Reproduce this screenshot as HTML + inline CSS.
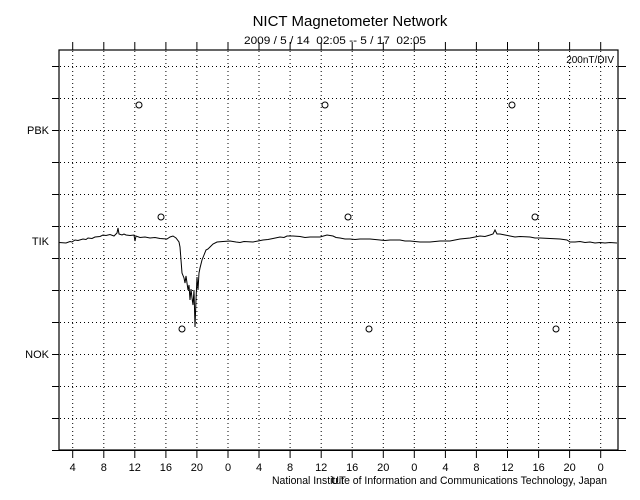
<!DOCTYPE html>
<html><head><style>
html,body{margin:0;padding:0;background:#fff;}
svg{display:block;font-family:"Liberation Sans",sans-serif;}
text{white-space:pre;}
</style></head><body>
<svg width="640" height="500" viewBox="0 0 640 500" xmlns="http://www.w3.org/2000/svg">
<rect width="640" height="500" fill="#fff"/>
<text x="350" y="26" font-size="15" text-anchor="middle">NICT Magnetometer Network</text>
<text x="244" y="44" font-size="11" textLength="182" lengthAdjust="spacingAndGlyphs">2009 / 5 / 14  02:05 -- 5 / 17  02:05</text>
<text x="614" y="63" font-size="10" text-anchor="end">200nT/DIV</text>
<g stroke="#000" stroke-width="1" stroke-dasharray="1,3" fill="none">
<path d="M60 66.5H618M60 98.5H618M60 130.5H618M60 162.5H618M60 194.5H618M60 226.5H618M60 258.5H618M60 290.5H618M60 322.5H618M60 354.5H618M60 386.5H618M60 418.5H618"/>
<path d="M72.7 51V450M103.8 51V450M134.8 51V450M165.9 51V450M196.9 51V450M228 51V450M259 51V450M290.1 51V450M321.2 51V450M352.2 51V450M383.3 51V450M414.3 51V450M445.4 51V450M476.4 51V450M507.5 51V450M538.6 51V450M569.6 51V450M600.7 51V450"/>
</g>
<rect x="59" y="50" width="559" height="400" fill="none" stroke="#000" stroke-width="1.2"/>
<g stroke="#000" stroke-width="1">
<path d="M52 66.5H59M52 98.5H59M52 130.5H59M52 162.5H59M52 194.5H59M52 226.5H59M52 258.5H59M52 290.5H59M52 322.5H59M52 354.5H59M52 386.5H59M52 418.5H59"/>
<path d="M618 66.5H626M618 98.5H626M618 130.5H626M618 162.5H626M618 194.5H626M618 226.5H626M618 258.5H626M618 290.5H626M618 322.5H626M618 354.5H626M618 386.5H626M618 418.5H626"/>
<path d="M52 450.5H626"/>
<path d="M72.7 42V50M103.8 42V50M134.8 42V50M165.9 42V50M196.9 42V50M228 42V50M259 42V50M290.1 42V50M321.2 42V50M352.2 42V50M383.3 42V50M414.3 42V50M445.4 42V50M476.4 42V50M507.5 42V50M538.6 42V50M569.6 42V50M600.7 42V50"/>
<path d="M72.7 450V458M103.8 450V458M134.8 450V458M165.9 450V458M196.9 450V458M228 450V458M259 450V458M290.1 450V458M321.2 450V458M352.2 450V458M383.3 450V458M414.3 450V458M445.4 450V458M476.4 450V458M507.5 450V458M538.6 450V458M569.6 450V458M600.7 450V458"/>
</g>
<g font-size="11" text-anchor="end">
<text x="49" y="134">PBK</text>
<text x="49" y="245">TIK</text>
<text x="49" y="358">NOK</text>
</g>
<g font-size="11" text-anchor="middle">
<text x="72.7" y="471">4</text><text x="103.8" y="471">8</text><text x="134.8" y="471">12</text><text x="165.9" y="471">16</text><text x="196.9" y="471">20</text><text x="228" y="471">0</text><text x="259" y="471">4</text><text x="290.1" y="471">8</text><text x="321.2" y="471">12</text><text x="352.2" y="471">16</text><text x="383.3" y="471">20</text><text x="414.3" y="471">0</text><text x="445.4" y="471">4</text><text x="476.4" y="471">8</text><text x="507.5" y="471">12</text><text x="538.6" y="471">16</text><text x="569.6" y="471">20</text><text x="600.7" y="471">0</text>
</g>
<text x="272" y="484" font-size="11" textLength="335" lengthAdjust="spacingAndGlyphs">National Institute of Information and Communications Technology, Japan</text>
<text x="331" y="484" font-size="11">UT</text>
<g fill="none" stroke="#000" stroke-width="1">
<circle cx="139" cy="105" r="3"/><circle cx="325" cy="105" r="3"/><circle cx="512" cy="105" r="3"/>
<circle cx="161" cy="217" r="3"/><circle cx="348" cy="217" r="3"/><circle cx="535" cy="217" r="3"/>
<circle cx="182" cy="329" r="3"/><circle cx="369" cy="329" r="3"/><circle cx="556" cy="329" r="3"/>
<path d="M59 242.5L66 243L70 241.5L72 242L75 240L78 240.5L83 239L86 239.5L88 238L92 238.5L95 237L100 236.5L103 235L106 235.5L110 234.5L114 236L117 233L118 228L119 234L122 235L124 234L126 235L130 235.5L134 235L135 241L136 236L140 237.5L145 237L150 238L155 237.5L160 238.5L167 239L170 237L173 236L176 238L179 242L180 247L181 260L182 273L184 278L185 283L186 276L188 290L189 285L190 300L191 289L192 298L193 305L194 290L195 327L196 300L197 277L198 290L199 273L200 268L202 260L204 255L206 250L208 249L210 247L213 244L217 242L223 241.5L230 241L236 242L240 242.5L244 241.5L253 242L258 241L263 240L268 239.5L273 238.5L280 237L284 237.5L287 236L293 236L300 236.5L305 237.5L310 237L320 237L327 235L333 236L336 237.5L340 238L345 239L350 239L355 239.5L360 239L370 239L380 240L385 240.5L390 240L400 240L405 241L410 241L420 242L430 242L435 241.5L440 241L450 241L455 240L460 239L465 238.5L470 238L480 236L485 236.5L490 235L493 234L495 230L497 234L500 234L505 235L510 236L515 237L520 236.5L530 237L535 238L540 238L550 238.5L560 239L567 240L570 242L575 242L580 241.5L585 242.5L590 242L595 243L600 242.5L605 243L610 242.5L617 243"/>
</g>
</svg>
</body></html>
